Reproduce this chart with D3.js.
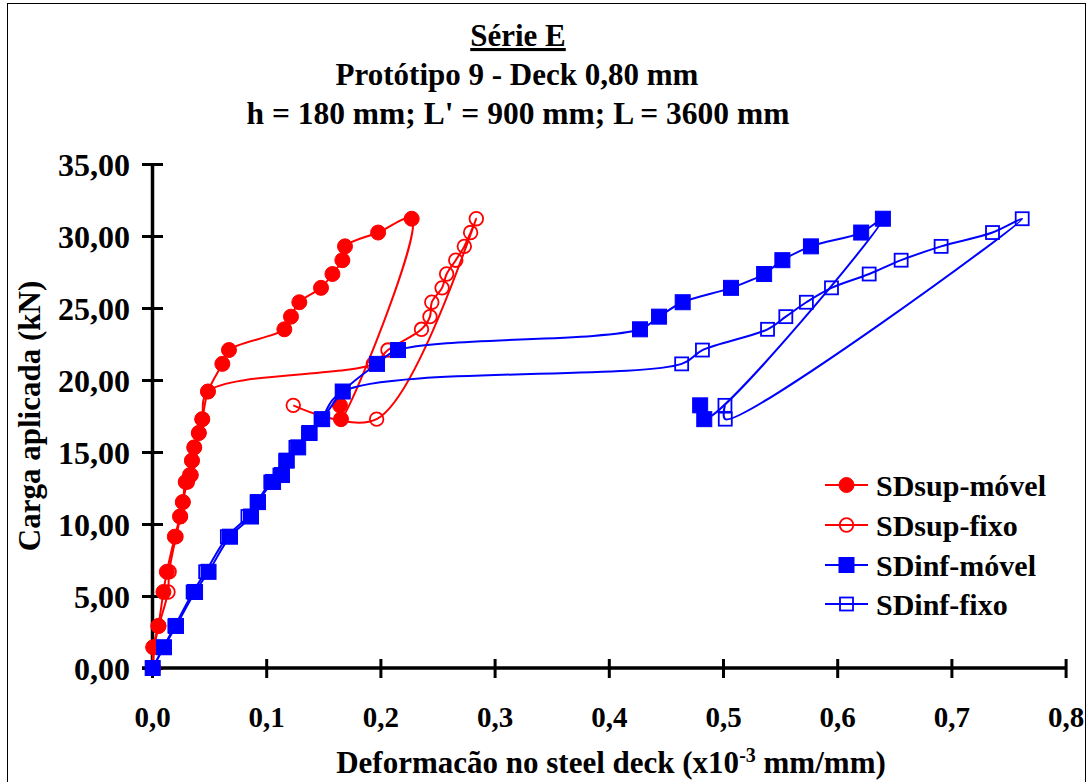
<!DOCTYPE html>
<html>
<head>
<meta charset="utf-8">
<script src="https://cdn.jsdelivr.net/npm/d3@7"></script>
<style>
  body { margin: 0; background: #fff; }
  text { font-family: "Liberation Serif", "Times New Roman", serif; font-weight: bold; }
</style>
</head>
<body>
<div id="chart"></div>
<script>
// Load steps (kN), same for every gauge
const loads = [0, 1.44, 2.92, 5.28, 6.68, 9.12, 10.52, 11.52, 12.92, 13.4, 14.4, 15.32, 16.32, 17.28,
  19.2, 21.12, 22.08, 23.52, 24.4, 25.4, 26.4, 27.36, 28.32, 29.28, 30.24, 31.2, 17.28, 18.24];

// Strain readings (x10^-3 mm/mm)
const supMovel = [0.001, 0.001, 0.0055, 0.010, 0.013, 0.020, 0.0245, 0.027, 0.0295, 0.034, 0.035, 0.037, 0.041, 0.044,
  0.049, 0.0616, 0.0674, 0.1159, 0.1217, 0.129, 0.148, 0.158, 0.1667, 0.169, 0.198, 0.2274, 0.1655, 0.1646];
const supFixo = [0.001, 0.002, 0.006, 0.014, 0.015, 0.021, 0.025, 0.027, 0.031, 0.033, 0.035, 0.037, 0.041, 0.044,
  0.049, 0.1938, 0.2066, 0.236, 0.2434, 0.245, 0.254, 0.258, 0.266, 0.2735, 0.279, 0.284, 0.1967, 0.1237];
const infMovel = [0.0006, 0.0105, 0.021, 0.0377, 0.0495, 0.0683, 0.0867, 0.0928, 0.106, 0.1138, 0.118, 0.128, 0.138, 0.149,
  0.167, 0.197, 0.2154, 0.4273, 0.444, 0.4647, 0.507, 0.536, 0.552, 0.577, 0.621, 0.640, 0.4836, 0.48];
const infFixo = [0.0006, 0.010, 0.020, 0.036, 0.047, 0.066, 0.084, 0.092, 0.104, 0.112, 0.117, 0.126, 0.137, 0.148,
  0.167, 0.4638, 0.482, 0.539, 0.555, 0.573, 0.595, 0.628, 0.656, 0.691, 0.736, 0.762, 0.502, 0.5017];

const seriesNames = ["SDsup-móvel", "SDsup-fixo", "SDinf-móvel", "SDinf-fixo"];
const xTicks = [0, 0.1, 0.2, 0.3, 0.4, 0.5, 0.6, 0.7, 0.8];
const yTicks = [0, 5, 10, 15, 20, 25, 30, 35];

const width = 1089;
const height = 782;
const plot = { left: 152, right: 1065.6, top: 164, bottom: 668 };

const series = [
  { name: seriesNames[0], xs: supMovel, color: "#ff0000", shape: "circle", filled: true },
  { name: seriesNames[1], xs: supFixo, color: "#ff0000", shape: "circle", filled: false },
  { name: seriesNames[2], xs: infMovel, color: "#0000ff", shape: "square", filled: true },
  { name: seriesNames[3], xs: infFixo, color: "#0000ff", shape: "square", filled: false },
];

const svg = d3.select("#chart").append("svg")
  .attr("width", width)
  .attr("height", height);

// outer chart frame
svg.append("rect")
  .attr("x", 7.5).attr("y", 3.5)
  .attr("width", 1078).attr("height", 800)
  .attr("fill", "none").attr("stroke", "#000").attr("stroke-width", 1);

const x = d3.scaleLinear().domain([0, 0.8]).range([plot.left, plot.right]);
const y = d3.scaleLinear().domain([0, 35]).range([plot.bottom, plot.top]);

const comma = (f) => (d) => d3.format(f)(d).replace(".", ",");

// axes
const yAxis = svg.append("g")
  .attr("transform", `translate(${plot.left},0)`)
  .call(d3.axisLeft(y).tickValues(yTicks).tickFormat(comma(".2f")).tickSizeInner(10).tickSizeOuter(0).tickPadding(12));
const xAxis = svg.append("g")
  .attr("transform", `translate(0,${plot.bottom})`)
  .call(d3.axisBottom(x).tickValues(xTicks).tickFormat(comma(".1f")).tickSizeInner(10).tickSizeOuter(0).tickPadding(28));

[yAxis, xAxis].forEach((ax) => {
  ax.select(".domain").attr("stroke", "#000").attr("stroke-width", 3.5);
  ax.selectAll(".tick line").attr("stroke", "#000").attr("stroke-width", 3);
  ax.selectAll(".tick text")
    .attr("fill", "#000")
    .style("font-family", "'Liberation Serif', serif")
    .style("font-weight", "bold");
});
yAxis.selectAll(".tick line").attr("x1", 11);
yAxis.selectAll(".tick text").attr("dy", "0.35em").style("font-size", "32px");
xAxis.selectAll(".tick line").attr("y1", -9);
xAxis.selectAll(".tick text").attr("dy", "0.71em").style("font-size", "29px");
// extend x axis line to the left like the original
xAxis.select(".domain").attr("d", `M${plot.left - 10},0H${plot.right}`);

// series, smoothed like the spreadsheet lines
const line = d3.line().curve(d3.curveCatmullRom.alpha(0.5));

function drawMarker(g, shape, filled, color, cx, cy) {
  if (shape === "circle") {
    g.append("circle")
      .attr("cx", cx).attr("cy", cy).attr("r", filled ? 7.5 : 6.8)
      .attr("fill", filled ? color : "none")
      .attr("stroke", color).attr("stroke-width", filled ? 1 : 1.8);
  } else {
    const s = filled ? 15 : 13;
    g.append("rect")
      .attr("x", cx - s / 2).attr("y", cy - s / 2)
      .attr("width", s).attr("height", s)
      .attr("fill", filled ? color : "none")
      .attr("stroke", color).attr("stroke-width", filled ? 1 : 1.8);
  }
}

series.forEach((s) => {
  const pts = s.xs.map((v, i) => [x(v), y(loads[i])]);
  const g = svg.append("g");
  g.append("path")
    .attr("d", line(pts))
    .attr("fill", "none")
    .attr("stroke", s.color)
    .attr("stroke-width", 2);
  pts.forEach((p) => drawMarker(g, s.shape, s.filled, s.color, p[0], p[1]));
});

// legend
const legend = svg.append("g");
const legendRows = [485, 525, 565, 604];
series.forEach((s, i) => {
  const ly = legendRows[i];
  legend.append("line")
    .attr("x1", 825).attr("x2", 868).attr("y1", ly).attr("y2", ly)
    .attr("stroke", s.color).attr("stroke-width", 2);
  drawMarker(legend, s.shape, s.filled, s.color, 846.5, ly);
  legend.append("text")
    .attr("x", 876).attr("y", ly + 11)
    .style("font-size", "30px")
    .text(s.name);
});

// titles
const title = svg.append("g").attr("text-anchor", "middle");
title.append("text").attr("x", 518).attr("y", 46).style("font-size", "31px")
  .attr("text-decoration", "underline").text("Série E");
title.append("text").attr("x", 517).attr("y", 85).style("font-size", "31px")
  .text("Protótipo 9 - Deck 0,80 mm");
title.append("text").attr("x", 518).attr("y", 124).style("font-size", "31.5px")
  .text("h = 180 mm; L' = 900 mm; L = 3600 mm");

// axis titles
const xt = svg.append("text")
  .attr("x", 611).attr("y", 773)
  .attr("text-anchor", "middle")
  .style("font-size", "31px");
xt.append("tspan").text("Deformacão no steel deck (x10");
xt.append("tspan").attr("dy", -11).style("font-size", "20px").text("-3");
xt.append("tspan").attr("dy", 11).text(" mm/mm)");

svg.append("text")
  .attr("transform", "translate(40,416) rotate(-90)")
  .attr("text-anchor", "middle")
  .style("font-size", "31px")
  .text("Carga aplicada (kN)");
</script>
</body>
</html>
